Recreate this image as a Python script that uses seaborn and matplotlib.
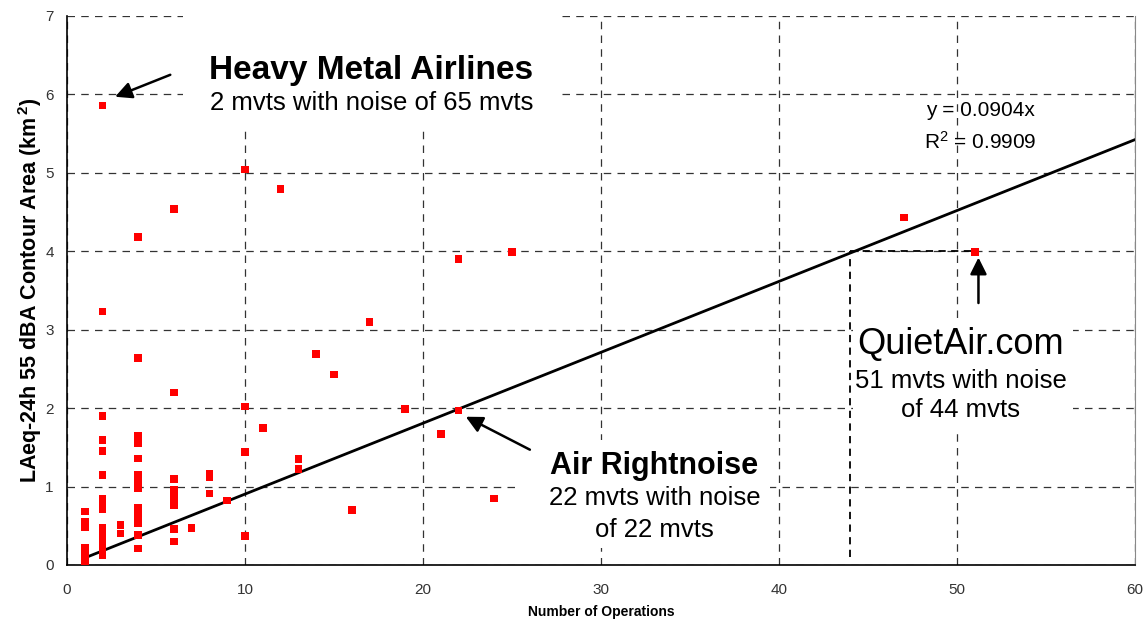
import pandas as pd
import seaborn as sns
import matplotlib.pyplot as plt
from matplotlib.patches import Rectangle

# ------------------------------------------------------------------------------------------------ #
# Operations per airline vs. LAeq-24h 55 dBA contour area
ops = (
    [1] * 7
    + [2] * 15
    + [3] * 2
    + [4] * 16
    + [6] * 9
    + [7]
    + [8] * 3
    + [9]
    + [10] * 4
    + [11, 12, 13, 13, 14, 15, 16, 17, 19, 21, 22, 22, 24, 25, 47, 51]
)
area = (
    [0.68, 0.55, 0.48, 0.22, 0.14, 0.07, 0.01]
    + [5.86, 3.23, 1.90, 1.59, 1.45, 1.15, 0.85, 0.78, 0.71, 0.48, 0.41, 0.34, 0.27, 0.20, 0.13]
    + [0.51, 0.40]
    + [4.18, 2.64, 1.65, 1.60, 1.55, 1.36, 1.15, 1.10, 1.04, 0.98, 0.73, 0.66, 0.59, 0.53, 0.38, 0.21]
    + [4.54, 2.20, 1.10, 0.96, 0.87, 0.81, 0.76, 0.46, 0.30]
    + [0.47]
    + [1.16, 1.12, 0.91]
    + [0.82]
    + [5.04, 2.02, 1.44, 0.37]
    + [1.75, 4.79, 1.35, 1.22, 2.69, 2.43, 0.70, 3.10, 1.99, 1.67, 3.90, 1.97, 0.85, 3.99, 4.43, 3.99]
)
slope = 0.0904
r_squared = 0.9909
trend_x = [1, 60]
guide_x = 44
guide_y = 4
x_ticks = [0, 10, 20, 30, 40, 50, 60]
y_ticks = [0, 1, 2, 3, 4, 5, 6, 7]

df = pd.DataFrame({"ops": ops, "area": area})
trend = pd.DataFrame({"ops": trend_x, "area": [slope * v for v in trend_x]})

# ------------------------------------------------------------------------------------------------ #
sns.set_style("white")
plt.rcParams["font.family"] = ["Liberation Sans", "DejaVu Sans"]
plt.rcParams["text.color"] = "black"
plt.rcParams["axes.labelcolor"] = "black"
plt.rcParams["mathtext.fontset"] = "custom"
plt.rcParams["mathtext.rm"] = "Liberation Sans"
plt.rcParams["mathtext.bf"] = "Liberation Sans:bold"
plt.rcParams["mathtext.default"] = "regular"

fig = plt.figure(figsize=(11.46, 6.24), dpi=100)
ax = fig.add_axes([0.0585, 0.0946, 0.932, 0.8798])

ax.set_axisbelow(True)
ax.grid(True, color="#333333", linestyle=(0, (6, 5)), linewidth=0.9)

# white label boxes that sit over the grid
for x0, x1, y0, y1 in [(6.5, 27.7, 5.57, 7.0), (25.5, 39.5, 0.22, 1.59), (44.15, 56.5, 1.72, 3.1)]:
    ax.add_patch(Rectangle((x0, y0), x1 - x0, y1 - y0, facecolor="white", edgecolor="none", zorder=1))

# QuietAir.com guide lines
ax.plot([guide_x, guide_x], [0.1, guide_y], color="black", linestyle=(0, (4, 3)), lw=1.3, zorder=2)
ax.plot([guide_x, 51], [guide_y, guide_y], color="black", linestyle=(0, (4, 3)), lw=1.3, zorder=2)

sns.lineplot(data=trend, x="ops", y="area", color="black", lw=2, ax=ax, zorder=3)
sns.scatterplot(data=df, x="ops", y="area", marker="s", s=30, color="red",
                edgecolor="none", linewidth=0, ax=ax, zorder=4)

ax.set_xlim(0, 60)
ax.set_ylim(0, 7)
ax.set_xticks(x_ticks)
ax.set_yticks(y_ticks)
ax.tick_params(axis="both", labelsize=11, labelcolor="#333333", color="#333333")
ax.tick_params(axis="y", direction="out", length=6, width=1)
ax.tick_params(axis="x", direction="inout", length=10, width=1, pad=8)

for side in ["left", "bottom"]:
    ax.spines[side].set_color("black")
    ax.spines[side].set_linewidth(1.2)
ax.spines["right"].set_color("#888888")
ax.spines["top"].set_visible(False)

ax.set_xlabel("Number of Operations", fontsize=10, fontweight="bold", labelpad=6)
ax.set_ylabel("LAeq-24h 55 dBA Contour Area (km$^{\\,2}$)", fontsize=15.5, fontweight="bold", labelpad=1)

arrow = dict(arrowstyle="-|>", color="black", lw=1.8, mutation_scale=25, shrinkA=0, shrinkB=0)

# annotations
ax.text(17.1, 6.31, "Heavy Metal Airlines", fontsize=24, fontweight="bold", ha="center", va="center", zorder=5)
ax.text(17.1, 5.89, "2 mvts with noise of 65 mvts", fontsize=18.5, ha="center", va="center", zorder=5)
ax.annotate("", xy=(2.7, 5.97), xytext=(5.8, 6.25), arrowprops=arrow)

ax.text(33.0, 1.26, "Air Rightnoise", fontsize=22, fontweight="bold", ha="center", va="center", zorder=5)
ax.text(33.0, 0.85, "22 mvts with noise", fontsize=18.5, ha="center", va="center", zorder=5)
ax.text(33.0, 0.45, "of 22 mvts", fontsize=18.5, ha="center", va="center", zorder=5)
ax.annotate("", xy=(22.4, 1.89), xytext=(26.0, 1.47), arrowprops=arrow)

ax.text(50.2, 2.81, "QuietAir.com", fontsize=26, ha="center", va="center", zorder=5)
ax.text(50.2, 2.35, "51 mvts with noise", fontsize=18.5, ha="center", va="center", zorder=5)
ax.text(50.2, 1.97, "of 44 mvts", fontsize=18.5, ha="center", va="center", zorder=5)
ax.annotate("", xy=(51.2, 3.92), xytext=(51.2, 3.34), arrowprops=arrow)

ax.text(51.3, 5.80, f"y = {slope}x", fontsize=15, ha="center", va="center", zorder=5)
ax.text(51.3, 5.40, f"R$^2$ = {r_squared}", fontsize=15, ha="center", va="center", zorder=5)

fig.savefig("out.png", dpi=100)
